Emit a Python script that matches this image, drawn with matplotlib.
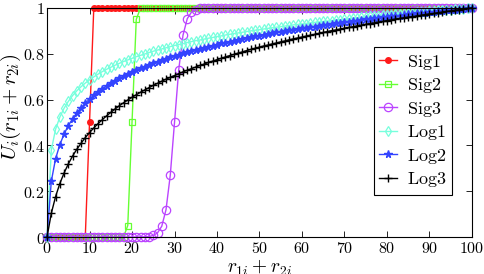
import numpy as np
import matplotlib
matplotlib.use("Agg")
import matplotlib.pyplot as plt
from matplotlib.ticker import FuncFormatter

plt.rcParams['mathtext.fontset'] = 'cm'
plt.rcParams['font.family'] = 'serif'

x = np.arange(0, 101)

sig1 = [0, 0, 0, 0, 0, 0, 0, 0, 0, 0,
        0.5, 1, 1, 1, 1, 1, 1, 1, 1, 1,
        1, 1, 1, 1, 1, 1, 1, 1, 1, 1,
        1, 1, 1, 1, 1, 1, 1, 1, 1, 1,
        1, 1, 1, 1, 1, 1, 1, 1, 1, 1,
        1, 1, 1, 1, 1, 1, 1, 1, 1, 1,
        1, 1, 1, 1, 1, 1, 1, 1, 1, 1,
        1, 1, 1, 1, 1, 1, 1, 1, 1, 1,
        1, 1, 1, 1, 1, 1, 1, 1, 1, 1,
        1, 1, 1, 1, 1, 1, 1, 1, 1, 1,
        1]

sig2 = [0, 0, 0, 0, 0, 0, 0, 0, 0, 0,
        0, 0, 0, 0, 0, 0, 0, 0, 0, 0.05,
        0.5, 0.95, 1, 1, 1, 1, 1, 1, 1, 1,
        1, 1, 1, 1, 1, 1, 1, 1, 1, 1,
        1, 1, 1, 1, 1, 1, 1, 1, 1, 1,
        1, 1, 1, 1, 1, 1, 1, 1, 1, 1,
        1, 1, 1, 1, 1, 1, 1, 1, 1, 1,
        1, 1, 1, 1, 1, 1, 1, 1, 1, 1,
        1, 1, 1, 1, 1, 1, 1, 1, 1, 1,
        1, 1, 1, 1, 1, 1, 1, 1, 1, 1,
        1]

sig3 = [0, 0, 0, 0, 0, 0, 0, 0, 0, 0,
        0, 0, 0, 0, 0, 0, 0, 0, 0, 0,
        0, 0, 0, 0.001, 0.002, 0.007, 0.018, 0.047, 0.119, 0.269,
        0.5, 0.731, 0.881, 0.953, 0.982, 0.993, 0.998, 1, 1, 1,
        1, 1, 1, 1, 1, 1, 1, 1, 1, 1,
        1, 1, 1, 1, 1, 1, 1, 1, 1, 1,
        1, 1, 1, 1, 1, 1, 1, 1, 1, 1,
        1, 1, 1, 1, 1, 1, 1, 1, 1, 1,
        1, 1, 1, 1, 1, 1, 1, 1, 1, 1,
        1, 1, 1, 1, 1, 1, 1, 1, 1, 1,
        1]

log1 = [0, 0.379, 0.470, 0.523, 0.562, 0.592, 0.617, 0.638, 0.656, 0.672,
        0.686, 0.699, 0.711, 0.722, 0.732, 0.741, 0.750, 0.758, 0.766, 0.773,
        0.780, 0.787, 0.793, 0.799, 0.805, 0.811, 0.816, 0.821, 0.826, 0.831,
        0.836, 0.840, 0.844, 0.849, 0.853, 0.857, 0.860, 0.864, 0.868, 0.871,
        0.875, 0.878, 0.882, 0.885, 0.888, 0.891, 0.894, 0.897, 0.900, 0.903,
        0.905, 0.908, 0.911, 0.913, 0.916, 0.918, 0.921, 0.923, 0.926, 0.928,
        0.930, 0.932, 0.935, 0.937, 0.939, 0.941, 0.943, 0.945, 0.947, 0.949,
        0.951, 0.953, 0.955, 0.957, 0.959, 0.961, 0.963, 0.964, 0.966, 0.968,
        0.970, 0.971, 0.973, 0.975, 0.976, 0.978, 0.979, 0.981, 0.983, 0.984,
        0.986, 0.987, 0.989, 0.990, 0.992, 0.993, 0.994, 0.996, 0.997, 0.999,
        1.0]

log2 = [0, 0.243, 0.341, 0.403, 0.449, 0.486, 0.516, 0.542, 0.564, 0.584,
        0.602, 0.618, 0.633, 0.646, 0.659, 0.671, 0.682, 0.692, 0.702, 0.711,
        0.720, 0.729, 0.737, 0.744, 0.752, 0.759, 0.766, 0.772, 0.778, 0.785,
        0.790, 0.796, 0.802, 0.807, 0.812, 0.817, 0.822, 0.827, 0.831, 0.836,
        0.840, 0.845, 0.849, 0.853, 0.857, 0.861, 0.865, 0.868, 0.872, 0.876,
        0.879, 0.883, 0.886, 0.889, 0.893, 0.896, 0.899, 0.902, 0.905, 0.908,
        0.911, 0.914, 0.917, 0.919, 0.922, 0.925, 0.927, 0.930, 0.933, 0.935,
        0.938, 0.940, 0.943, 0.945, 0.947, 0.950, 0.952, 0.954, 0.957, 0.959,
        0.961, 0.963, 0.965, 0.967, 0.970, 0.972, 0.974, 0.976, 0.978, 0.980,
        0.982, 0.984, 0.985, 0.987, 0.989, 0.991, 0.993, 0.995, 0.996, 0.998,
        1.0]

log3 = [0, 0.103, 0.176, 0.233, 0.279, 0.319, 0.353, 0.383, 0.409, 0.434,
        0.456, 0.476, 0.495, 0.512, 0.529, 0.544, 0.559, 0.573, 0.586, 0.598,
        0.610, 0.621, 0.632, 0.642, 0.652, 0.662, 0.671, 0.680, 0.689, 0.697,
        0.705, 0.713, 0.721, 0.728, 0.735, 0.742, 0.749, 0.755, 0.762, 0.768,
        0.774, 0.780, 0.786, 0.792, 0.797, 0.803, 0.808, 0.814, 0.819, 0.824,
        0.829, 0.834, 0.838, 0.843, 0.847, 0.852, 0.856, 0.861, 0.865, 0.869,
        0.873, 0.877, 0.881, 0.885, 0.889, 0.893, 0.897, 0.901, 0.904, 0.908,
        0.911, 0.915, 0.918, 0.922, 0.925, 0.929, 0.932, 0.935, 0.938, 0.941,
        0.945, 0.948, 0.951, 0.954, 0.957, 0.960, 0.962, 0.965, 0.968, 0.971,
        0.974, 0.976, 0.979, 0.982, 0.985, 0.987, 0.990, 0.992, 0.995, 0.998,
        1.0]

labels = ['Sig1', 'Sig2', 'Sig3', 'Log1', 'Log2', 'Log3']

fig = plt.figure(figsize=(4.85, 2.74), dpi=100)
ax = fig.add_axes([0.097, 0.135, 0.876, 0.836])

ax.plot(x, sig1, color='#ff1a1a', lw=1, marker='o', ms=4, clip_on=False,
        label=r'$\mathrm{%s}$' % labels[0])
ax.plot(x, sig2, color='#66ff33', lw=1, marker='s', ms=4.5, mfc='none',
        mew=0.9, clip_on=False, label=r'$\mathrm{%s}$' % labels[1])
ax.plot(x, sig3, color='#bb44ff', lw=1, marker='o', ms=6, mfc='none',
        mew=0.9, clip_on=False, label=r'$\mathrm{%s}$' % labels[2])
ax.plot(x, log1, color='#77ffdd', lw=1, marker='d', ms=5.5, mfc='none',
        mew=0.9, clip_on=False, label=r'$\mathrm{%s}$' % labels[3])
ax.plot(x, log2, color='#3344ff', lw=1, marker='*', ms=5.5, clip_on=False,
        label=r'$\mathrm{%s}$' % labels[4])
ax.plot(x, log3, color='black', lw=1, marker='+', ms=6, mew=1,
        clip_on=False, label=r'$\mathrm{%s}$' % labels[5])

ax.set_xlim(0, 100)
ax.set_ylim(0, 1)
ax.set_xticks(np.arange(0, 101, 10))
ax.set_yticks([0, 0.2, 0.4, 0.6, 0.8, 1])
fmt = FuncFormatter(lambda v, p: r'$%g$' % v)
ax.xaxis.set_major_formatter(fmt)
ax.yaxis.set_major_formatter(fmt)
ax.tick_params(direction='in', top=True, right=True, labelsize=11.5,
               length=4, width=0.6)
ax.tick_params(axis='x', pad=2.5)
ax.tick_params(axis='y', pad=1.5)
for s in ax.spines.values():
    s.set_linewidth(0.8)

ax.set_xlabel(r'$r_{1i}+r_{2i}$', fontsize=14, labelpad=0)
ax.set_ylabel(r'$U_i(r_{1i}+r_{2i})$', fontsize=15)
ax.yaxis.set_label_coords(-0.056, 0.57)

leg = ax.legend(loc='upper right', bbox_to_anchor=(0.952, 0.828),
                borderaxespad=0, fancybox=False, fontsize=13,
                handlelength=1.0, handletextpad=0.5, labelspacing=0.25,
                borderpad=0.3, framealpha=1)
leg.get_frame().set_edgecolor('black')
leg.get_frame().set_linewidth(0.8)
leg.set_zorder(5)

fig.savefig('out.png', dpi=100)
